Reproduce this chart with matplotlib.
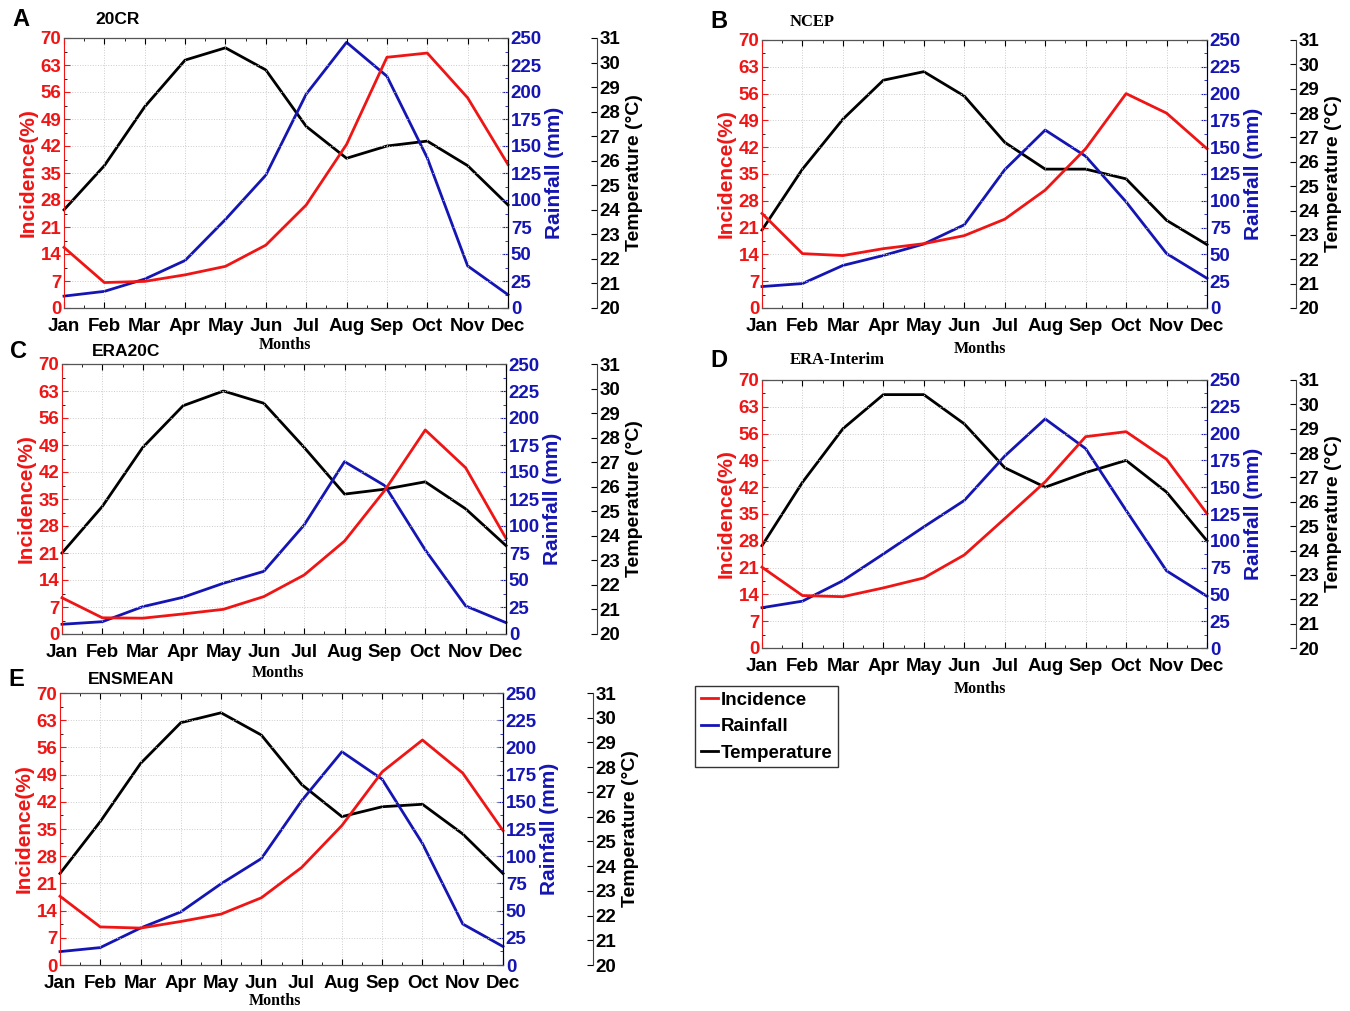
import numpy as np
import matplotlib.pyplot as plt
from matplotlib.lines import Line2D
from matplotlib.ticker import MultipleLocator

plt.rcParams['font.family'] = ['Liberation Sans', 'DejaVu Sans']

W, H = 1350, 1011

months = ['Jan', 'Feb', 'Mar', 'Apr', 'May', 'Jun',
          'Jul', 'Aug', 'Sep', 'Oct', 'Nov', 'Dec']

# 20CR
inc_20cr = [15.7, 6.6, 6.9, 8.6, 10.8, 16.3, 26.7, 42.4, 65.0, 66.1, 54.5, 37.2]
rain_20cr = [11, 15.4, 26.8, 44, 82, 123, 198, 246, 214.6, 139, 39, 12.3]
temp_20cr = [24.0, 25.8, 28.2, 30.1, 30.6, 29.7, 27.4, 26.1, 26.6, 26.8, 25.8, 24.2]

# NCEP
inc_ncep = [24.7, 14.2, 13.7, 15.5, 16.8, 18.9, 23.2, 30.8, 41.6, 56.0, 50.9, 41.6]
rain_ncep = [20, 22.8, 39.7, 49, 59.7, 77.6, 129, 166, 141.6, 99, 50.8, 27.7]
temp_ncep = [23.2, 25.7, 27.75, 29.35, 29.7, 28.7, 26.8, 25.7, 25.7, 25.3, 23.6, 22.6]

# ERA20C
inc_era20c = [9.4, 4.2, 4.1, 5.2, 6.4, 9.7, 15.3, 24.1, 37.3, 52.9, 43.1, 24.8]
rain_era20c = [9, 11.4, 25.3, 34, 47, 58, 101, 159.6, 137.3, 77.8, 26, 10.5]
temp_era20c = [23.3, 25.2, 27.6, 29.3, 29.9, 29.4, 27.6, 25.7, 25.9, 26.2, 25.1, 23.6]

# ERA-Interim
inc_erai = [21.1, 13.7, 13.4, 15.7, 18.3, 24.3, 33.8, 43.4, 55.2, 56.5, 49.3, 35.1]
rain_erai = [37.6, 43.7, 62.8, 87.7, 113, 137.6, 179, 213.7, 186, 128.4, 72, 48.3]
temp_erai = [24.2, 26.8, 29.0, 30.4, 30.4, 29.2, 27.4, 26.6, 27.2, 27.7, 26.4, 24.4]

# ENSMEAN
inc_ens = [17.7, 9.8, 9.5, 11.2, 13.1, 17.3, 25.1, 35.9, 49.7, 57.9, 49.4, 34.6]
rain_ens = [12.3, 16, 34, 48.8, 74.7, 97.8, 151, 196, 170.7, 111.7, 37.7, 17]
temp_ens = [23.7, 25.8, 28.15, 29.8, 30.2, 29.3, 27.3, 26.0, 26.4, 26.5, 25.3, 23.7]

RED = '#f01515'
BLUE = '#1515b4'

fig = plt.figure(figsize=(W / 100, H / 100), dpi=100)


def box(l, r, t, b):
    return [l / W, 1 - b / H, (r - l) / W, (b - t) / H]


def panel(l, r, t, b, tx, inc, rain, temp, letter, title, serif_title,
          title_xy, months_xy):
    x = np.arange(12)
    ax = fig.add_axes(box(l, r, t, b))
    ax.set_xlim(0, 11)
    ax.set_ylim(0, 70)
    ax.set_xticks(x)
    ax.set_xticklabels(months, fontsize=13.5, fontweight='bold')
    ax.xaxis.set_minor_locator(MultipleLocator(0.5))
    ax.set_yticks(np.arange(0, 71, 7))
    ax.yaxis.set_minor_locator(MultipleLocator(3.5))
    ax.tick_params(axis='y', colors=RED, labelsize=13.5, direction='in', length=4, pad=2)
    ax.tick_params(axis='x', direction='in', length=4, top=True, pad=7)
    ax.tick_params(which='minor', direction='in', length=2, top=True)
    for lab in ax.get_yticklabels():
        lab.set_fontweight('bold')
    ax.grid(True, linestyle=':', color='#cccccc', lw=0.7)
    for s in ['top', 'bottom']:
        ax.spines[s].set_color('#555555')
    ax.spines['left'].set_color(RED)
    ax.set_ylabel('Incidence(%)', color=RED, fontsize=15, fontweight='bold', labelpad=2)

    ax2 = ax.twinx()
    ax2.set_ylim(0, 250)
    ax2.set_yticks(np.arange(0, 251, 25))
    ax2.yaxis.set_minor_locator(MultipleLocator(12.5))
    ax2.tick_params(axis='y', which='both', colors=BLUE, labelsize=13.5, direction='in', pad=2)
    ax2.tick_params(axis='y', which='major', length=4)
    ax2.tick_params(axis='y', which='minor', length=2)
    for lab in ax2.get_yticklabels():
        lab.set_fontweight('bold')
    ax2.spines['right'].set_color(BLUE)
    ax2.spines['left'].set_visible(False)
    ax2.set_ylabel('Rainfall (mm)', color=BLUE, fontsize=15, fontweight='bold', labelpad=2)

    ax3 = ax.twinx()
    ax3.set_ylim(20, 31)
    ax3.set_yticks(np.arange(20, 32, 1))
    ax3.spines['right'].set_position(('axes', (tx - l) / (r - l)))
    ax3.spines['right'].set_color('#444444')
    ax3.spines['right'].set_linewidth(0.8)
    for s in ['left', 'top', 'bottom']:
        ax3.spines[s].set_visible(False)
    ax3.tick_params(axis='y', labelsize=13.5, direction='in', length=4, pad=2)
    for lab in ax3.get_yticklabels():
        lab.set_fontweight('bold')
    ax3.set_ylabel('Temperature (\u00b0C)', fontsize=14, fontweight='bold', labelpad=4)

    ax3.plot(x, temp, color='black', lw=2.0, clip_on=False)
    ax2.plot(x, rain, color=BLUE, lw=2.0, clip_on=False)
    ax.plot(x, inc, color=RED, lw=2.0, clip_on=False)
    ax.set_zorder(ax3.get_zorder() + 2)
    ax.patch.set_visible(False)
    ax2.set_zorder(ax3.get_zorder() + 1)

    fig.text((l - 52) / W, 1 - (title_xy[1]) / H, letter, fontsize=17,
             fontweight='bold', va='center', ha='left')
    if serif_title:
        fig.text(title_xy[0] / W, 1 - title_xy[1] / H, title, fontsize=12,
                 fontweight='bold', family='Liberation Serif', va='center')
    else:
        fig.text(title_xy[0] / W, 1 - title_xy[1] / H, title, fontsize=12.5,
                 fontweight='bold', va='center')
    fig.text(months_xy[0] / W, 1 - months_xy[1] / H, 'Months', fontsize=11.5,
             fontweight='bold', family='Liberation Serif', ha='center', va='center')


panel(64, 508, 38, 308, 597, inc_20cr, rain_20cr, temp_20cr, 'A', '20CR', False,
      (95, 20), (285, 345))
panel(762, 1207, 40, 308, 1296, inc_ncep, rain_ncep, temp_ncep, 'B', 'NCEP', True,
      (790, 22), (980, 349))
panel(62, 506, 364, 634, 597, inc_era20c, rain_era20c, temp_era20c, 'C', 'ERA20C', False,
      (92, 351), (278, 673))
panel(762, 1207, 380, 648, 1296, inc_erai, rain_erai, temp_erai, 'D', 'ERA-Interim', True,
      (790, 360), (980, 689))
panel(60, 503, 693, 965, 593, inc_ens, rain_ens, temp_ens, 'E', 'ENSMEAN', False,
      (88, 679), (275, 1001))

handles = [Line2D([], [], color=RED, lw=2.0),
           Line2D([], [], color=BLUE, lw=2.0),
           Line2D([], [], color='black', lw=2.0)]
leg = fig.legend(handles, ['Incidence', 'Rainfall', 'Temperature'],
                 loc='upper left', bbox_to_anchor=(695 / W, 1 - 686 / H),
                 borderaxespad=0, handlelength=0.9, handletextpad=0.15,
                 borderpad=0.3, labelspacing=0.5, fancybox=False,
                 edgecolor='#333333', framealpha=1,
                 prop={'size': 13.5, 'weight': 'semibold'})
leg.get_frame().set_linewidth(1.0)

fig.savefig('out.png', dpi=100)
